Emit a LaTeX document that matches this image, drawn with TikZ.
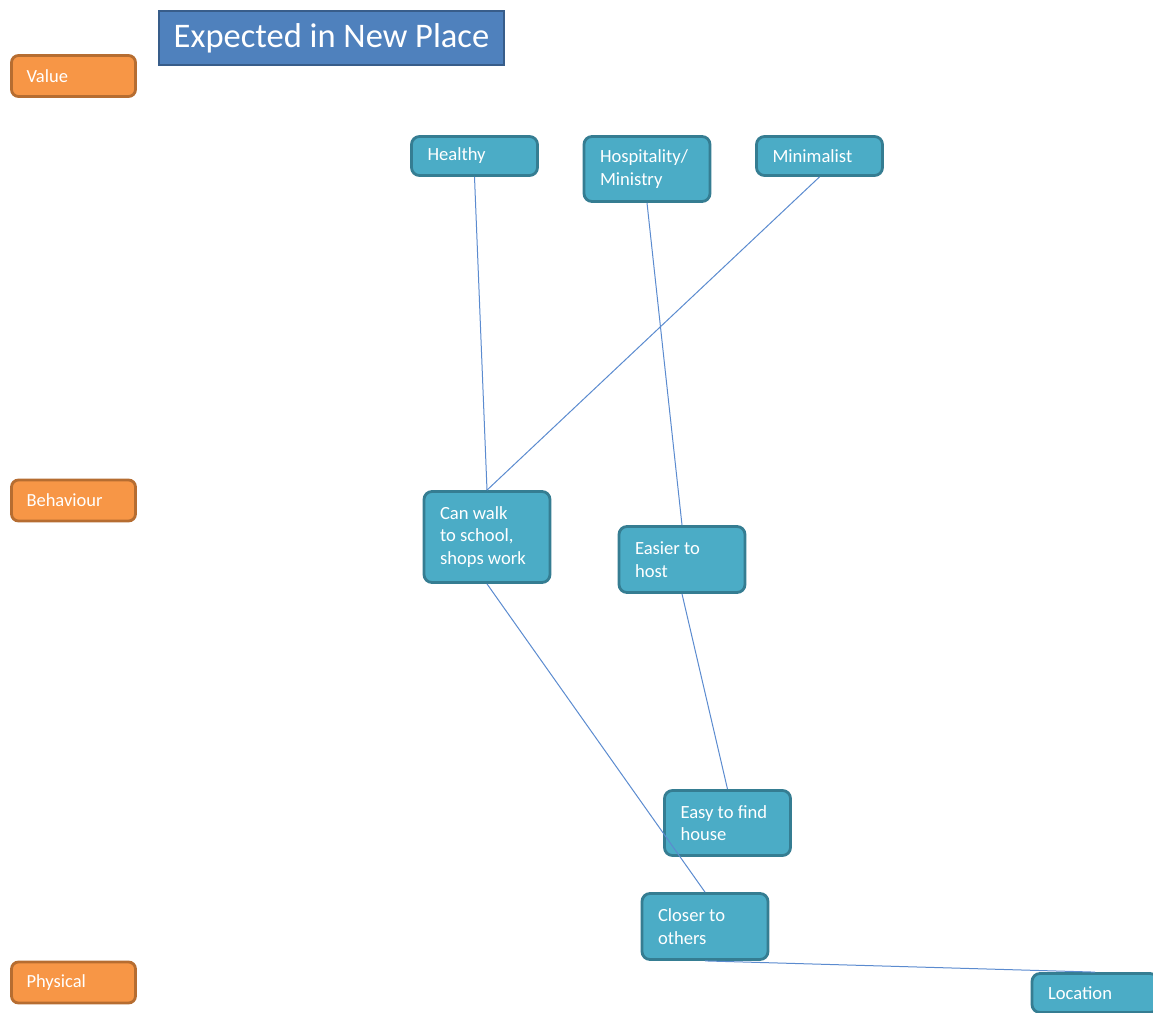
\documentclass[tikz,border=0pt]{standalone}
\usepackage{fontspec}
\setmainfont{Carlito}
\definecolor{tealfill}{HTML}{4BACC6}
\definecolor{tealline}{HTML}{357D92}
\definecolor{orangefill}{HTML}{F79646}
\definecolor{orangeline}{HTML}{B66D31}
\definecolor{titlefill}{HTML}{4F81BD}
\definecolor{titleline}{HTML}{385D8A}
\definecolor{linkcol}{HTML}{5B8BCF}
\tikzset{
  levelbox/.style={draw=orangeline, fill=orangefill, line width=2.8pt, rounded corners=7pt,
    text=white, inner xsep=15pt, inner ysep=0pt, text width=94pt, align=flush left,
    minimum height=41pt, font=\fontsize{18.5}{22.5}\selectfont},
  ideabox/.style={draw=tealline, fill=tealfill, line width=2.8pt, rounded corners=8pt,
    text=white, inner xsep=16pt, inner ysep=0pt, text width=94pt, align=flush left,
    font=\fontsize{18.6}{22.7}\selectfont},
  titlebox/.style={draw=titleline, fill=titlefill, line width=2pt, text=white,
    minimum width=345pt, minimum height=54pt, inner sep=0pt,
    font=\fontsize{34.5}{40}\selectfont},
  link/.style={draw=linkcol, line width=1pt}
}
\begin{document}
\begin{tikzpicture}[x=1pt,y=-1pt]
\useasboundingbox (0,0) rectangle (1153,1012);

% level labels
\node[levelbox] (value) at (73.5,76) {Value};
\node[levelbox] (behaviour) at (73.5,500.5) {Behaviour};
\node[levelbox] (physical) at (73.5,982.5) {Physical};

% title
\node[titlebox] (title) at (331.5,38) {Expected in New Place};

% values
\node[ideabox, minimum height=39pt] (healthy) at (474.5,156) {Healthy};
\node[ideabox, minimum height=65pt] (hosp) at (647,169) {Hospitality/\\Ministry};
\node[ideabox, minimum height=39pt] (minimal) at (819.5,156) {Minimalist};

% behaviours
\node[ideabox, minimum height=91pt] (walk) at (487,537) {Can walk\\to school,\\shops work};
\node[ideabox, minimum height=66pt] (host) at (682,559.5) {Easier to\\host};

% physical
\node[ideabox, minimum height=65pt] (find) at (727.5,823) {Easy to find\\house};
\node[ideabox, minimum height=66pt] (closer) at (705,926.5) {Closer to\\others};
\node[ideabox, minimum height=39pt] (location) at (1095,993) {Location};

% links
\draw[link] (healthy.south) -- (walk.north);
\draw[link] (minimal.south) -- (walk.north);
\draw[link] (hosp.south) -- (host.north);
\draw[link] (walk.south) -- (closer.north);
\draw[link] (host.south) -- (find.north);
\draw[link] (closer.south) -- (location.north);
\end{tikzpicture}
\end{document}
